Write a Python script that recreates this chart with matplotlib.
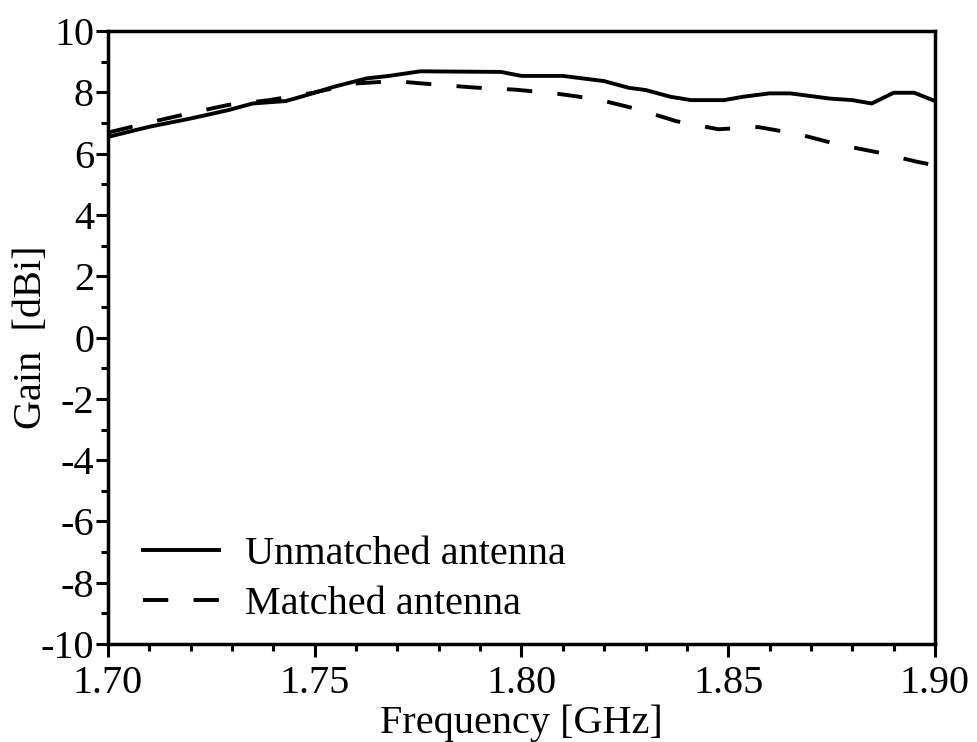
import numpy as np
import matplotlib
matplotlib.use("Agg")
import matplotlib.pyplot as plt
from matplotlib.ticker import MultipleLocator, FormatStrFormatter

plt.rcParams['font.family'] = ['Liberation Serif', 'DejaVu Serif']
plt.rcParams['axes.unicode_minus'] = False

# gain curves, frequency in GHz, gain in dBi
freq_unmatched = [1.700, 1.710, 1.720, 1.729, 1.735, 1.743, 1.748, 1.7545, 1.7626, 1.768,
                  1.7755, 1.795, 1.800, 1.810, 1.820, 1.826, 1.830, 1.836, 1.841, 1.849,
                  1.8536, 1.860, 1.865, 1.8746, 1.880, 1.8847, 1.890, 1.895, 1.900]
gain_unmatched = [6.55, 6.88, 7.15, 7.42, 7.64, 7.72, 7.91, 8.18, 8.46, 8.54,
                  8.69, 8.67, 8.54, 8.54, 8.37, 8.15, 8.08, 7.86, 7.75, 7.75,
                  7.86, 7.97, 7.97, 7.80, 7.75, 7.64, 7.99, 7.99, 7.72]

freq_matched = [1.700, 1.710, 1.720, 1.729, 1.739, 1.7496, 1.7596, 1.7693, 1.779, 1.7887,
                1.7986, 1.8081, 1.8182, 1.8279, 1.8375, 1.8476, 1.8573, 1.867, 1.8766,
                1.8867, 1.8956, 1.900]
gain_matched = [6.69, 7.02, 7.33, 7.59, 7.75, 7.99, 8.29, 8.37, 8.26, 8.16,
                8.09, 7.97, 7.78, 7.46, 7.06, 6.80, 6.87, 6.64, 6.30,
                6.03, 5.74, 5.62]

fig = plt.figure(figsize=(9.77, 7.42), dpi=100)
ax = fig.add_axes([0.1105, 0.132, 0.8465, 0.826])

ax.plot(freq_unmatched, gain_unmatched, color='black', lw=2.8,
        label='Unmatched antenna')
ax.plot(freq_matched, gain_matched, color='black', lw=2.8, dashes=(6.5, 6.5),
        label='Matched antenna')

ax.set_xlim(1.70, 1.90)
ax.set_ylim(-10, 10)
ax.xaxis.set_major_locator(MultipleLocator(0.05))
ax.xaxis.set_minor_locator(MultipleLocator(0.01))
ax.xaxis.set_major_formatter(FormatStrFormatter('%.2f'))
ax.yaxis.set_major_locator(MultipleLocator(2))
ax.yaxis.set_minor_locator(MultipleLocator(1))

for s in ax.spines.values():
    s.set_linewidth(2.5)

ax.tick_params(which='both', direction='out', labelsize=29, width=2.2)
ax.tick_params(which='major', length=9)
ax.tick_params(which='minor', length=5)
ax.tick_params(axis='y', which='major', pad=1)
ax.tick_params(axis='x', which='major', pad=6)

ax.set_xlabel('Frequency [GHz]', fontsize=29, labelpad=2)
ax.set_ylabel('Gain  [dBi]', fontsize=29)
# the label sits tucked in between the tick labels
ax.yaxis.set_label_coords(-0.07, 0.5)

ax.legend(loc='lower left', frameon=False, fontsize=29, handlelength=1.9,
          handletextpad=0.65, labelspacing=0.3, borderaxespad=0, borderpad=0,
          bbox_to_anchor=(0.042, 0.035))

fig.savefig('out.png', dpi=100)
